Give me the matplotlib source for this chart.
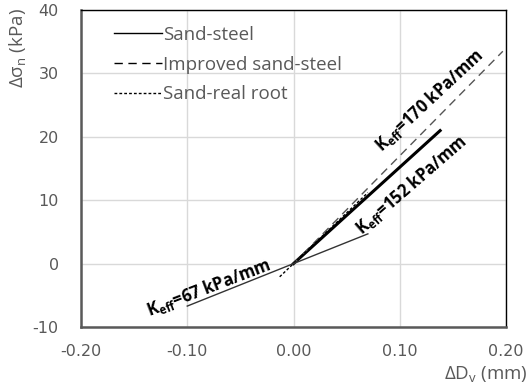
import numpy as np
import matplotlib.pyplot as plt

plt.rcParams["axes.unicode_minus"] = False

# trend lines (slope in kPa/mm, x range in mm)
series = ["Sand-steel", "Improved sand-steel", "Sand-real root"]
steel_x = [0.0, 0.138]
steel_k = 152
improved_x = [0.0, 0.197]
improved_k = 170
root_x = [-0.013, 0.07]
root_k = 160
low_x = [-0.10, 0.07]
low_k = 67

labels = ["K$_{\\mathregular{eff}}$=170 kPa/mm",
          "K$_{\\mathregular{eff}}$=152 kPa/mm",
          "K$_{\\mathregular{eff}}$=67 kPa/mm"]
label_xy = [(0.128, 25.8), (0.111, 12.4), (-0.080, -3.8)]
label_rot = [43, 41, 21]

grey = "#595959"

fig = plt.figure(figsize=(5.30, 3.91), dpi=100)
ax = fig.add_axes([81 / 530, 1 - 327 / 391, 425 / 530, 317 / 391])

ax.plot(steel_x, np.array(steel_x) * steel_k, color="black", lw=2.2,
        label=series[0])
ax.plot(improved_x, np.array(improved_x) * improved_k, color="#555555", lw=1.0,
        ls=(0, (6, 4)), label=series[1])
ax.plot(root_x, np.array(root_x) * root_k, color="black", lw=1.0,
        ls=(0, (2, 1.5)), label=series[2])
ax.plot(low_x, np.array(low_x) * low_k, color="#333333", lw=1.0)

for txt, (x, y), r in zip(labels, label_xy, label_rot):
    ax.text(x, y, txt, rotation=r, ha="center", va="center", fontsize=12,
            fontweight="bold", family="Open Sans", rotation_mode="anchor")

ax.set_xlim(-0.2, 0.2)
ax.set_ylim(-10, 40)
ax.set_xticks([-0.2, -0.1, 0.0, 0.1, 0.2])
ax.set_xticklabels([f"{v:.2f}" for v in [-0.2, -0.1, 0.0, 0.1, 0.2]])
ax.set_yticks([-10, 0, 10, 20, 30, 40])
ax.grid(True, color="#d9d9d9", lw=1.0)
ax.set_axisbelow(True)
ax.tick_params(length=0, colors=grey, labelsize=11.5)
ax.tick_params(axis="y", pad=16)
ax.tick_params(axis="x", pad=12)
for s in ["left", "bottom"]:
    ax.spines[s].set_color(grey)
    ax.spines[s].set_linewidth(1.8)
for s in ["top", "right"]:
    ax.spines[s].set_color("black")
    ax.spines[s].set_linewidth(1.0)

fig.text(18 / 530, 1 - 48 / 391, "Δσ$_\\mathregular{n}$ (kPa)", rotation=90,
         ha="center", va="center", color=grey, fontsize=13.5, family="Open Sans")
fig.text(528 / 530, 1 - 375 / 391, "ΔD$_\\mathregular{v}$ (mm)", ha="right",
         va="center", color=grey, fontsize=13.5, family="Open Sans")

leg = ax.legend(loc="upper left", bbox_to_anchor=(0.05, 0.985), frameon=False,
                handlelength=2.6, handletextpad=0.05, labelspacing=0.62,
                borderaxespad=0.2, prop={"family": "Open Sans", "size": 13.5})
for t in leg.get_texts():
    t.set_color(grey)
for h in leg.get_lines():
    h.set_linewidth(1.0)
    h.set_color("black")

fig.savefig("out.png", dpi=100)
